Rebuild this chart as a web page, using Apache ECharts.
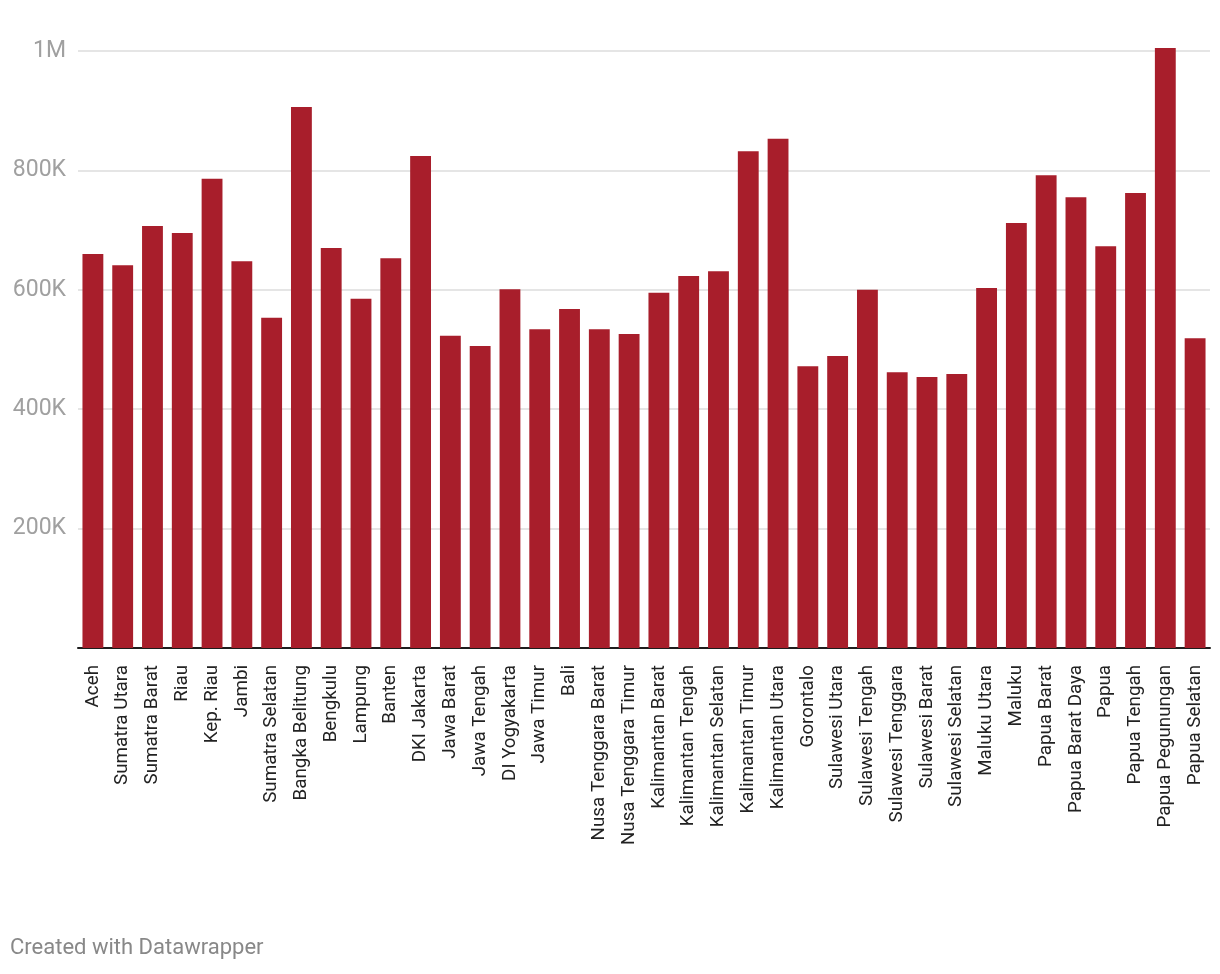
<!DOCTYPE html>
<html>
<head>
<meta charset="utf-8">
<script src="https://cdn.jsdelivr.net/npm/echarts@6/dist/echarts.min.js"></script>
<style>
  html, body { margin: 0; padding: 0; background: #fff; }
  #chart { width: 1220px; height: 974px; }
</style>
</head>
<body>
<div id="chart"></div>
<script>
var provinces = ['Aceh', 'Sumatra Utara', 'Sumatra Barat', 'Riau', 'Kep. Riau', 'Jambi',
  'Sumatra Selatan', 'Bangka Belitung', 'Bengkulu', 'Lampung', 'Banten', 'DKI Jakarta',
  'Jawa Barat', 'Jawa Tengah', 'DI Yogyakarta', 'Jawa Timur', 'Bali', 'Nusa Tenggara Barat',
  'Nusa Tenggara Timur', 'Kalimantan Barat', 'Kalimantan Tengah', 'Kalimantan Selatan',
  'Kalimantan Timur', 'Kalimantan Utara', 'Gorontalo', 'Sulawesi Utara', 'Sulawesi Tengah',
  'Sulawesi Tenggara', 'Sulawesi Barat', 'Sulawesi Selatan', 'Maluku Utara', 'Maluku',
  'Papua Barat', 'Papua Barat Daya', 'Papua', 'Papua Tengah', 'Papua Pegunungan', 'Papua Selatan'];

var values = [660000, 641000, 707000, 695000, 786000, 648000,
  553000, 906000, 670000, 585000, 653000, 824000,
  523000, 506000, 601000, 534000, 568000, 534000,
  526000, 595000, 623000, 631000,
  832000, 853000, 472000, 489000, 600000,
  462000, 454000, 459000, 603000, 712000,
  792000, 755000, 673000, 762000, 1005000, 519000];

var yTicks = { 200000: '200K', 400000: '400K', 600000: '600K', 800000: '800K', 1000000: '1M' };

var chart = echarts.init(document.getElementById('chart'));
chart.setOption({
  animation: false,
  grid: { left: 78, right: 10, top: 51, bottom: 326 },
  graphic: [{
    type: 'text', left: 10, top: 937,
    style: { text: 'Created with Datawrapper', fill: '#888', font: '22px Roboto' }
  }],
  xAxis: {
    type: 'category',
    data: provinces,
    axisTick: { show: false },
    axisLine: { lineStyle: { color: '#1d1d1d', width: 2 } },
    axisLabel: { rotate: 90, interval: 0, margin: 17, color: '#222', fontFamily: 'Roboto', fontSize: 18.8 }
  },
  yAxis: {
    type: 'value',
    min: 0, max: 1000000, interval: 200000,
    axisLine: { show: false },
    axisTick: { show: false },
    splitLine: { lineStyle: { color: '#e5e5e5', width: 2 } },
    axisLabel: {
      margin: 12, color: '#a0a0a0', fontFamily: 'Roboto', fontSize: 23,
      formatter: function (v) { return yTicks[v] || ''; }
    }
  },
  series: [{
    type: 'bar',
    data: values,
    barWidth: '70%',
    clip: false,
    itemStyle: { color: '#a81e2b' }
  }]
});
</script>
</body>
</html>
